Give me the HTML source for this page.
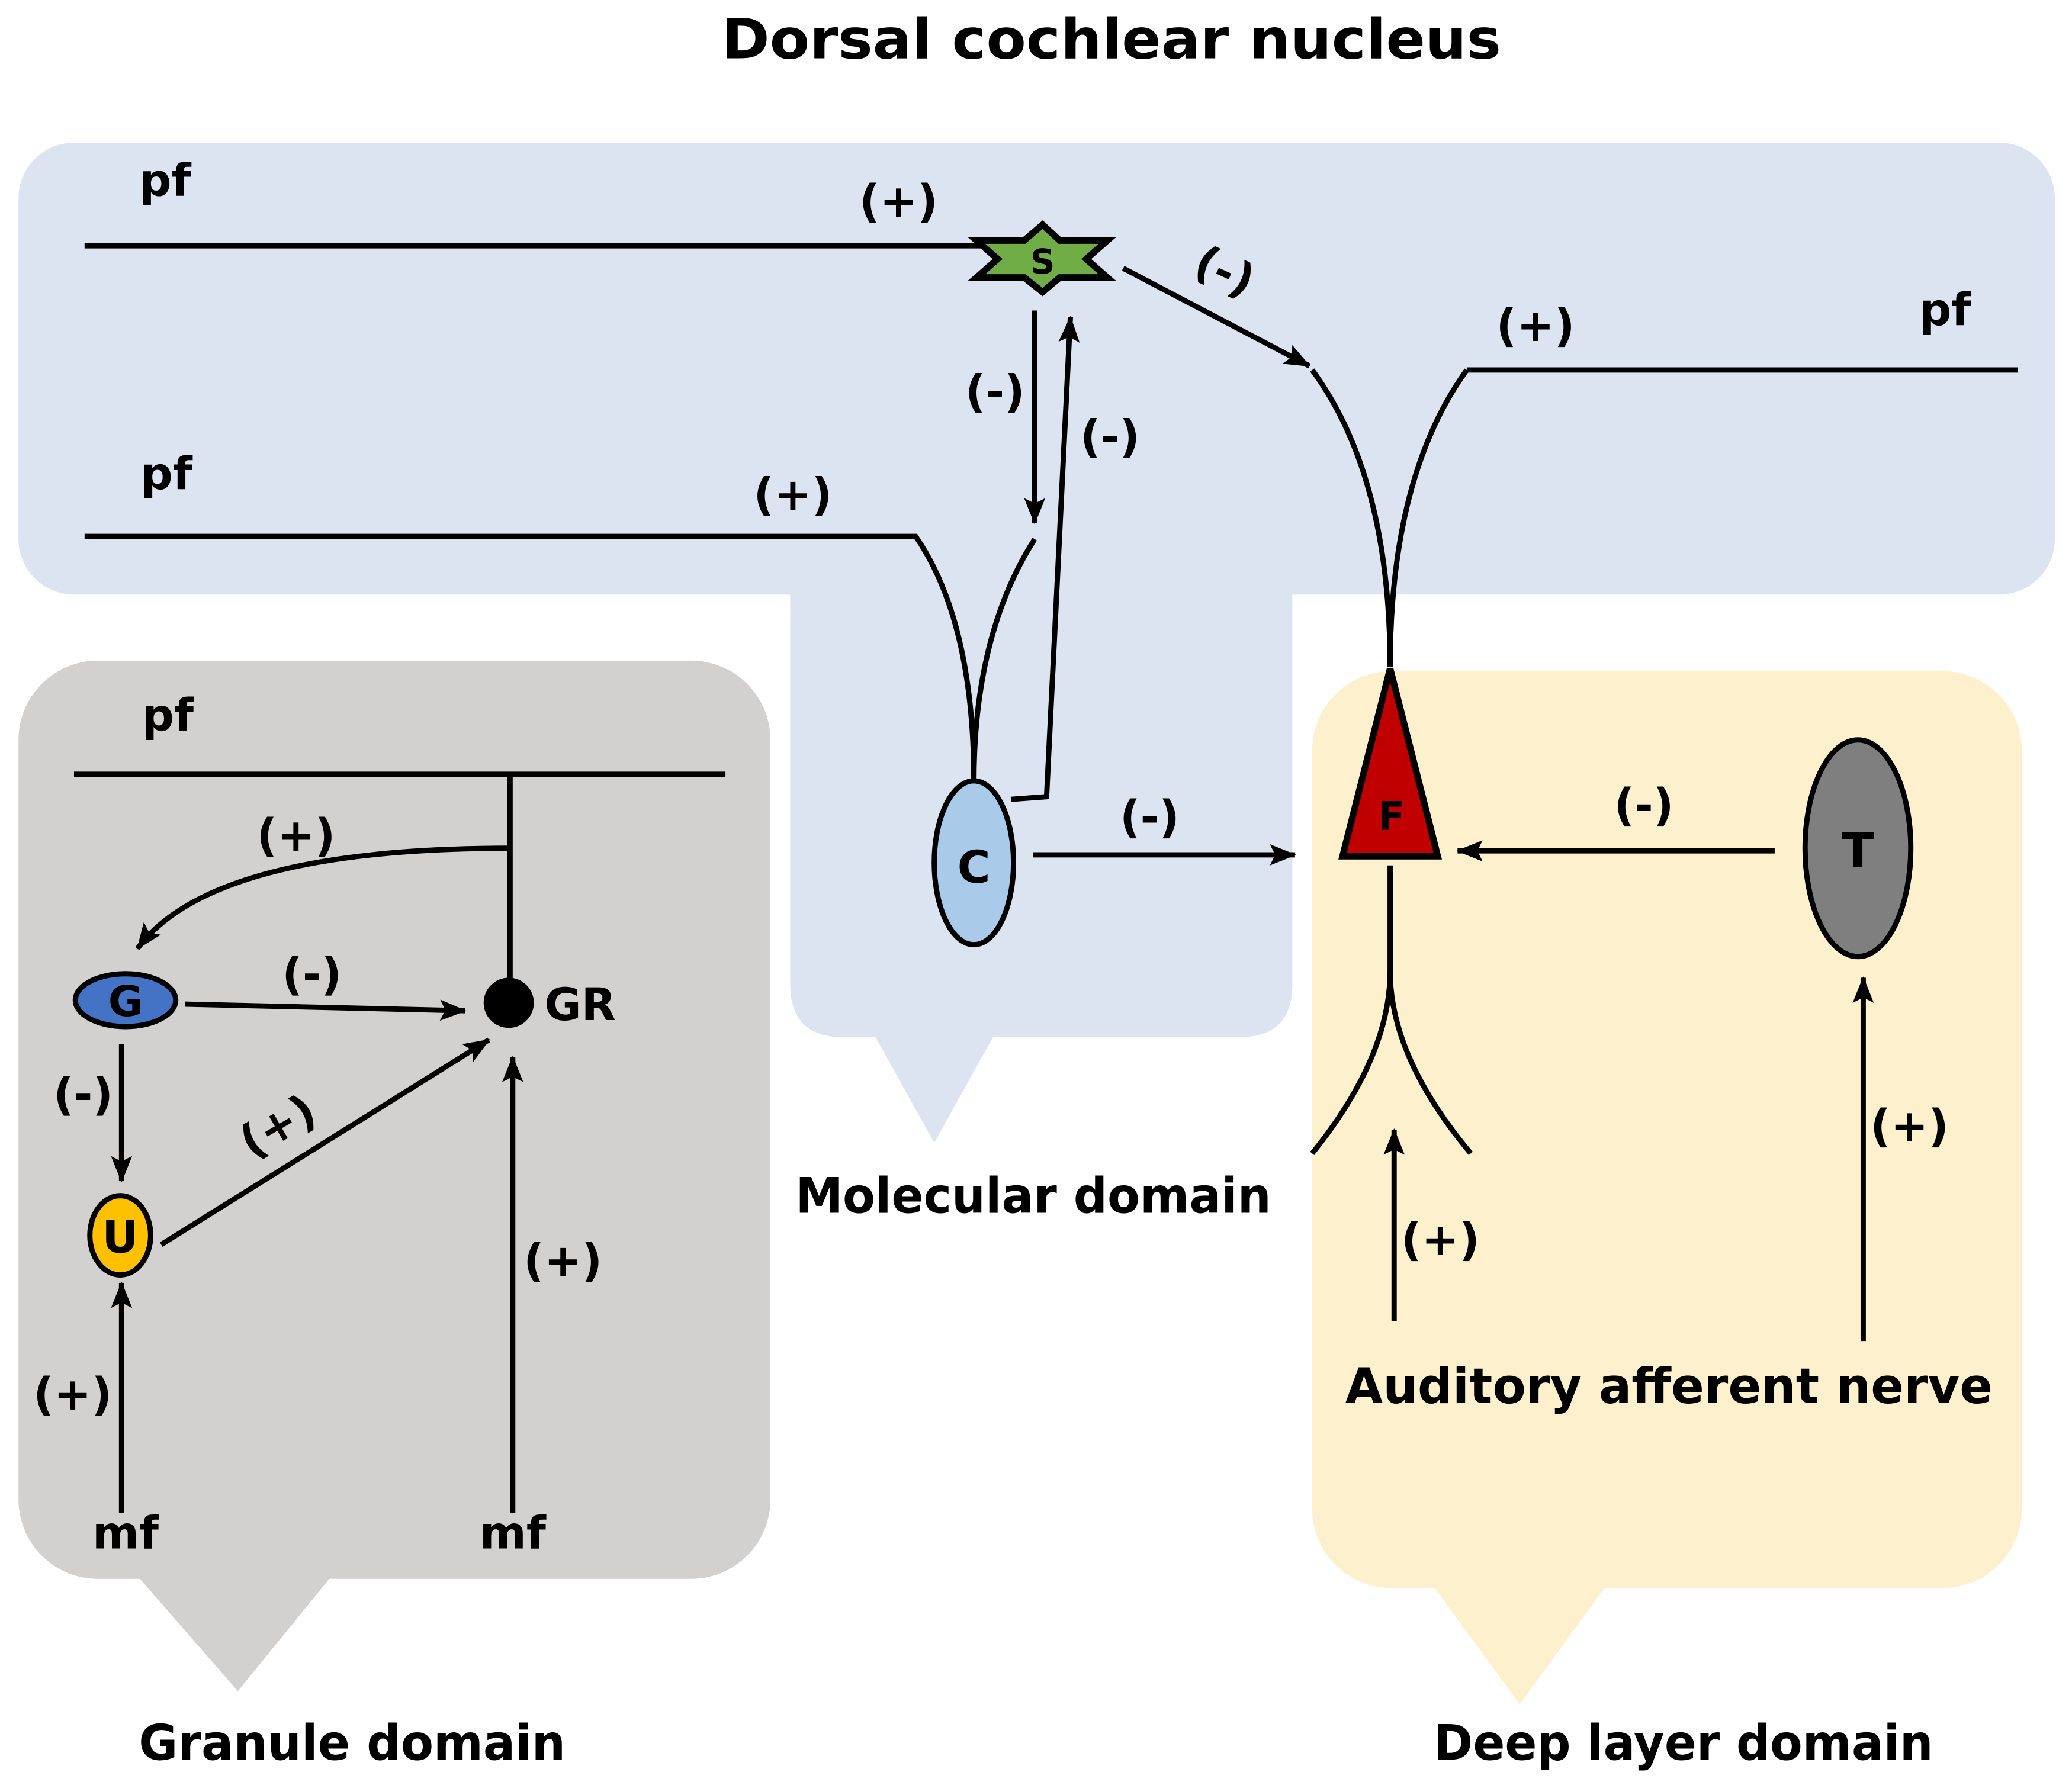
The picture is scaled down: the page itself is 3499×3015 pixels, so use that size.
<!DOCTYPE html>
<html><head><meta charset="utf-8"><style>html,body{margin:0;padding:0;background:#fff}svg{display:block}</style></head>
<body>
<svg width="3499" height="3015" viewBox="0 0 1568 1351" xmlns="http://www.w3.org/2000/svg" font-family="DejaVu Sans, Liberation Sans, sans-serif" font-weight="bold">
<defs>
<marker id="a" viewBox="0 0 20 16" refX="19" refY="8" markerWidth="20" markerHeight="16" orient="auto" markerUnits="userSpaceOnUse">
<path d="M0,0 L20,8 L0,16 L4,8 Z" fill="#000"/></marker>
</defs>
<rect width="1568" height="1351" fill="#fff"/>
<text x="546" y="44" font-size="42" textLength="590" lengthAdjust="spacingAndGlyphs">Dorsal cochlear nucleus</text>
<g fill="#dce3f1">
<rect x="14" y="108" width="1541" height="342" rx="42"/>
<path d="M598,440 H978 V745 Q978,785 938,785 H638 Q598,785 598,745 Z"/>
<path d="M662,784 L752,784 L707,865 Z"/>
</g>
<rect x="14" y="500" width="569" height="695" rx="60" fill="#d3d0d0"/>
<path d="M105,1194 L250,1194 L180,1280 Z" fill="#d3d0d0"/>
<rect x="993" y="508" width="537" height="694" rx="60" fill="#fdf0cc"/>
<path d="M1085,1201 L1215,1201 L1150,1290 Z" fill="#fdf0cc"/>

<g stroke="#000" stroke-width="4" fill="none">
<line x1="64" y1="186" x2="745" y2="186"/>
<line x1="783" y1="235" x2="783" y2="396" marker-end="url(#a)"/>
<path d="M765,605 L792,603 L810,240" marker-end="url(#a)"/>
<line x1="850" y1="203" x2="991" y2="277" marker-end="url(#a)"/>
<path d="M993,280 Q1052,360 1052,505"/>
<path d="M1110,280 Q1052,360 1052,505"/>
<line x1="1110" y1="280" x2="1527" y2="280"/>
<path d="M64,406 H693 Q737,470 737,592"/>
<path d="M783,408 Q737,480 737,592"/>
<line x1="782" y1="647" x2="980" y2="647" marker-end="url(#a)"/>
<line x1="1343" y1="644" x2="1103" y2="644" marker-end="url(#a)"/>
<path d="M1052,655 V735 Q1052,800 993,873"/>
<path d="M1052,735 Q1052,800 1113,873"/>
<line x1="1055" y1="1000" x2="1055" y2="855" marker-end="url(#a)"/>
<line x1="1410" y1="1015" x2="1410" y2="740" marker-end="url(#a)"/>
<line x1="56" y1="586" x2="549" y2="586"/>
<line x1="386" y1="586" x2="386" y2="745"/>
<path d="M386,642 Q160,642 104,718" marker-end="url(#a)"/>
<line x1="140" y1="760" x2="352" y2="765" marker-end="url(#a)"/>
<line x1="92" y1="790" x2="92" y2="894" marker-end="url(#a)"/>
<line x1="122" y1="942" x2="370" y2="787" marker-end="url(#a)"/>
<line x1="92" y1="1145" x2="92" y2="971" marker-end="url(#a)"/>
<line x1="388" y1="1145" x2="388" y2="800" marker-end="url(#a)"/>
</g>
<path d="M789,170 L802,182 L838,182 L822,196 L838,210 L802,210 L789,221 L775,210 L739,210 L755,196 L739,182 L775,182 Z" fill="#70ad47" stroke="#000" stroke-width="5" stroke-linejoin="miter"/>
<text x="789" y="207" font-size="26" text-anchor="middle">S</text>
<ellipse cx="737" cy="653" rx="30" ry="62" fill="#a9cbe9" stroke="#000" stroke-width="4"/>
<text x="737" y="668" font-size="34" text-anchor="middle">C</text>
<path d="M1052,506 L1088,648 L1016,648 Z" fill="#c00000" stroke="#000" stroke-width="5"/>
<text x="1053" y="628" font-size="30" text-anchor="middle">F</text>
<ellipse cx="1406" cy="642" rx="40" ry="82" fill="#7f7f7f" stroke="#000" stroke-width="4"/>
<text x="1406" y="656" font-size="36" text-anchor="middle">T</text>
<circle cx="385" cy="759" r="19" fill="#000"/>
<ellipse cx="95" cy="757" rx="38" ry="20" fill="#4472c4" stroke="#000" stroke-width="4"/>
<text x="95" y="769" font-size="32" text-anchor="middle">G</text>
<ellipse cx="91" cy="935" rx="23" ry="30" fill="#ffc000" stroke="#000" stroke-width="4"/>
<text x="91" y="948" font-size="34" text-anchor="middle">U</text>
<g font-size="34" text-anchor="middle">
<text x="125" y="148">pf</text>
<text x="126" y="370">pf</text>
<text x="1472" y="246">pf</text>
<text x="127" y="553">pf</text>
<text x="680" y="164">(+)</text>
<text x="927" y="217" transform="rotate(25 927 205)">(-)</text>
<text x="1162" y="258">(+)</text>
<text x="600" y="386">(+)</text>
<text x="753" y="308">(-)</text>
<text x="840" y="342">(-)</text>
<text x="870" y="630">(-)</text>
<text x="1244" y="621">(-)</text>
<text x="1090" y="950">(+)</text>
<text x="1445" y="864">(+)</text>
<text x="224" y="644">(+)</text>
<text x="236" y="749">(-)</text>
<text x="63" y="840">(-)</text>
<text x="210" y="864" transform="rotate(-30 210 852)">(+)</text>
<text x="55" y="1067">(+)</text>
<text x="426" y="966">(+)</text>
<text x="95" y="1172">mf</text>
<text x="388" y="1172">mf</text>
</g>
<text x="412" y="772" font-size="34">GR</text>
<g font-size="37">
<text x="602" y="918" textLength="360" lengthAdjust="spacingAndGlyphs">Molecular domain</text>
<text x="1018" y="1062" textLength="490" lengthAdjust="spacingAndGlyphs">Auditory afferent nerve</text>
<text x="105" y="1332" textLength="323" lengthAdjust="spacingAndGlyphs">Granule domain</text>
<text x="1085" y="1332" textLength="378" lengthAdjust="spacingAndGlyphs">Deep layer domain</text>
</g>
</svg>
</body></html>
